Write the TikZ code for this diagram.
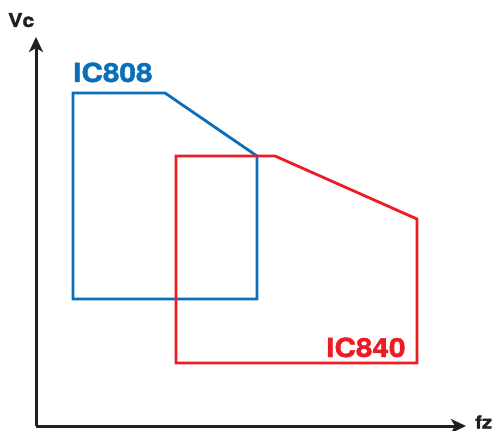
\documentclass[tikz,border=0pt]{standalone}
\usepackage{fontspec}
\setmainfont{TeX Gyre Heros}
\newfontfamily\heavyfont[BoldFont={TeX Gyre Heros Bold},BoldFeatures={FakeBold=1.6,FakeStretch=1.13}]{TeX Gyre Heros}
\usetikzlibrary{arrows.meta}
\definecolor{bluecol}{RGB}{10,110,185}
\definecolor{redcol}{RGB}{237,28,36}
\definecolor{axiscol}{RGB}{35,31,32}
\tikzset{
  axisline/.style={draw=axiscol,line width=3pt,-{Stealth[length=15pt,width=14pt,inset=4pt]}},
  bluebox/.style={draw=bluecol,line width=2.8pt,line join=miter},
  redbox/.style={draw=redcol,line width=2.8pt,line join=miter},
  biglabel/.style={font=\fontsize{26.3}{26.3}\heavyfont\bfseries\selectfont,inner sep=0pt,anchor=base west},
  axislabel/.style={font=\fontsize{19}{19}\heavyfont\bfseries\selectfont,text=axiscol,inner sep=0pt,anchor=base west},
  fzlabel/.style={font=\fontsize{18}{18}\heavyfont\bfseries\selectfont,text=axiscol,inner sep=0pt,anchor=base west}
}
\begin{document}
\begin{tikzpicture}[x=1pt,y=-1pt]
\useasboundingbox (0,0) rectangle (494,430);
\coordinate (origin) at (36,426);
\coordinate (ytip) at (36,37);
\coordinate (xtip) at (466,426);
\draw[axisline] (origin) -- (ytip);
\draw[axisline] (origin) -- (xtip);
\draw[bluebox] (73,93) -- (165,93) -- (257,156) -- (257,299) -- (73,299) -- cycle;
\draw[redbox] (176,156) -- (275,156) -- (417,219) -- (417,363) -- (176,363) -- cycle;
\node[biglabel,text=bluecol] (lblue) at (73,82) {IC808};
\node[biglabel,text=redcol] (lred) at (326,357) {IC840};
\node[axislabel] (lv) at (8,27) {Vc};
\node[fzlabel] (lf) at (475,428.5) {fz};
\end{tikzpicture}
\end{document}
